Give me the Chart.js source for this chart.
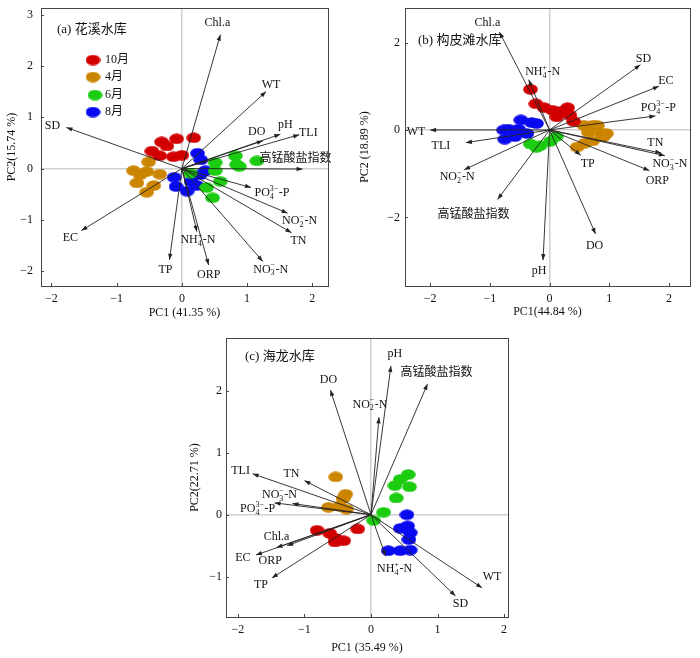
<!DOCTYPE html>
<html>
<head>
<meta charset="utf-8">
<script src="https://cdn.jsdelivr.net/npm/chart.js@4.4.1/dist/chart.umd.min.js"></script>
<style>
body { margin: 0; background: #fff; width: 700px; height: 658px; position: relative; overflow: hidden; }
canvas { position: absolute; }
</style>
</head>
<body>
<canvas id="chartA" width="340" height="322" style="left:0;top:0"></canvas>
<canvas id="chartB" width="360" height="322" style="left:340px;top:0"></canvas>
<canvas id="chartC" width="340" height="336" style="left:180px;top:322px"></canvas>
<script>
// sampling months
var months = ['10月', '4月', '6月', '8月'];

// (a) 花溪水库 - loadings
var aVars = ['Chl.a', 'WT', 'pH', 'DO', 'TLI', '高锰酸盐指数', 'PO_4^{3−}-P', 'NO_2^{−}-N', 'TN', 'NO_3^{−}-N', 'ORP', 'NH_4^{+}-N', 'TP', 'EC', 'SD'];
var aPC1 = [0.59, 1.29, 1.51, 1.24, 1.80, 1.85, 1.06, 1.62, 1.68, 1.24, 0.41, 0.23, -0.19, -1.54, -1.77];
var aPC2 = [2.61, 1.50, 0.67, 0.54, 0.66, -0.01, -0.37, -0.87, -1.25, -1.81, -1.88, -1.23, -1.78, -1.21, 0.80];
// (a) scores
var aOctX = [0.18, -0.08, -0.31, -0.23, -0.46, -0.34, -0.13, 0.00];
var aOctY = [0.60, 0.58, 0.52, 0.44, 0.34, 0.25, 0.23, 0.26];
var aAprX = [-0.51, -0.74, -0.54, -0.34, -0.64, -0.69, -0.43, -0.54];
var aAprY = [0.13, -0.04, -0.06, -0.11, -0.12, -0.28, -0.33, -0.46];
var aJunX = [0.82, 0.84, 0.88, 1.15, 0.51, 0.51, 0.59, 0.38, 0.47, 0.13];
var aJunY = [0.25, 0.08, 0.04, 0.15, 0.12, -0.04, -0.25, -0.37, -0.57, -0.09];
var aAugX = [0.24, 0.29, 0.36, 0.28, -0.12, -0.09, 0.14, 0.23, 0.08];
var aAugY = [0.30, 0.17, -0.04, -0.12, -0.17, -0.35, -0.25, -0.33, -0.44];

// (b) 构皮滩水库 - loadings
var bVars = ['Chl.a', 'NH_4^{+}-N', 'SD', 'EC', 'PO_4^{3−}-P', 'TN', 'NO_3^{−}-N', 'ORP', 'TP', 'DO', 'pH', '高锰酸盐指数', 'NO_2^{−}-N', 'TLI', 'WT'];
var bPC1 = [-0.84, -0.35, 1.52, 1.83, 1.77, 1.87, 1.93, 1.67, 0.52, 0.77, -0.11, -0.87, -1.43, -1.40, -2.00];
var bPC2 = [2.24, 1.15, 1.49, 1.00, 0.32, -0.53, -0.59, -0.93, -0.58, -2.38, -2.98, -1.59, -0.91, -0.29, 0.00];
// (b) scores
var bOctX = [-0.32, -0.23, -0.09, 0.05, 0.18, 0.30, 0.34, 0.12, 0.40];
var bOctY = [0.93, 0.60, 0.51, 0.45, 0.42, 0.51, 0.34, 0.30, 0.20];
var bAprX = [0.57, 0.80, 0.87, 0.90, 0.72, 0.59, 0.46, 0.65, 0.95, 0.73];
var bAprY = [0.11, 0.10, -0.08, -0.15, -0.25, -0.30, -0.39, -0.05, -0.08, 0.11];
var bJunX = [-0.32, -0.16, 0.01, 0.11, -0.22];
var bJunY = [-0.32, -0.36, -0.26, -0.15, -0.40];
var bAugX = [-0.48, -0.30, -0.69, -0.52, -0.38, -0.75, -0.58, -0.22, -0.77];
var bAugY = [0.23, 0.17, 0.02, 0.02, -0.08, -0.21, -0.15, 0.15, 0.00];

// (c) 海龙水库 - loadings
var cVars = ['pH', '高锰酸盐指数', 'DO', 'NO_2^{−}-N', 'TLI', 'TN', 'NO_3^{−}-N', 'PO_4^{3−}-P', 'Chl.a', 'ORP', 'EC', 'TP', 'NH_4^{+}-N', 'WT', 'SD'];
var cPC1 = [0.30, 0.85, -0.61, 0.12, -1.78, -1.00, -1.18, -1.45, -1.42, -1.26, -1.73, -1.49, 0.22, 1.67, 1.27];
var cPC2 = [2.40, 2.11, 2.01, 1.57, 0.66, 0.55, 0.18, 0.19, -0.53, -0.50, -0.65, -1.02, -0.67, -1.18, -1.31];
// (c) scores
var cOctX = [-0.81, -0.62, -0.53, -0.41, -0.54, -0.20];
var cOctY = [-0.25, -0.30, -0.38, -0.42, -0.44, -0.23];
var cAprX = [-0.53, -0.38, -0.42, -0.64, -0.47, -0.37];
var cAprY = [0.61, 0.33, 0.26, 0.12, 0.14, 0.09];
var cJunX = [0.56, 0.44, 0.36, 0.58, 0.38, 0.19, 0.04];
var cJunY = [0.65, 0.57, 0.47, 0.45, 0.27, 0.04, -0.09];
var cAugX = [0.54, 0.55, 0.59, 0.57, 0.44, 0.26, 0.44, 0.59];
var cAugY = [0.00, -0.18, -0.29, -0.40, -0.22, -0.58, -0.58, -0.57];

// styling
var monthColors = ['#d20000', '#cc8500', '#1ccc10', '#0a0af0'];
var serif = '"Liberation Serif", "Noto Sans CJK SC"';

// label offsets from arrow tips (px)
var aLabDx = [-3, 5, 5, -6, 9, -7, 21, 12, 7, 8, 0, 1, -4, -11, -14];
var aLabDy = [-12, -7, -9, -9, -2, -10, 5, 8, 8, 8, 10, 8, 10, 7, -2];
var bLabDx = [-12, 14, 3, 7, 3, -6, 5, 8, 7, -1, -4, -24, -7, -25, -14];
var bLabDy = [-9, -8, -6, -5, -8, -10, 8, 10, 9, 12, 11, 15, 7, 3, 2];
var cLabDx = [4, 9, -2, -9, -12, -13, -13, -17, 0, -17, -13, -11, 9, 10, 5];
var cLabDy = [-12, -11, -10, -13, -3, -7, -9, 6, -11, 15, 3, 7, 13, -11, 8];

function ellipseImg(color) {
    var c = document.createElement('canvas');
    c.width = 15; c.height = 11;
    var g = c.getContext('2d');
    g.fillStyle = color;
    g.beginPath();
    g.ellipse(7.5, 5.5, 7.3, 5.3, 0, 0, Math.PI * 2);
    g.fill();
    return c;
}
var markers = monthColors.map(ellipseImg);

// "NO_3^{−}-N" -> parts with sub/sup
function richParts(s) {
    var parts = [], i = 0;
    while (i < s.length) {
        var c = s[i];
        if (c === '_' || c === '^') {
            var t;
            if (s[i + 1] === '{') { var j = s.indexOf('}', i); t = s.slice(i + 2, j); i = j + 1; }
            else { t = s[i + 1]; i += 2; }
            parts.push({ t: t, k: c === '_' ? 'sub' : 'sup' });
        } else {
            var j2 = i;
            while (j2 < s.length && s[j2] !== '_' && s[j2] !== '^') j2++;
            parts.push({ t: s.slice(i, j2), k: 'n' });
            i = j2;
        }
    }
    return parts;
}

function drawRich(ctx, s, cx, cy) {
    var big = '12px ' + serif, small = '8px "Liberation Serif"';
    var parts = richParts(s), segs = [], w = 0;
    for (var i = 0; i < parts.length; i++) {
        var p = parts[i];
        if (p.k === 'n') {
            ctx.font = big;
            segs.push({ p: p, x: w });
            w += ctx.measureText(p.t).width;
        } else {
            ctx.font = small;
            var pw = ctx.measureText(p.t).width;
            segs.push({ p: p, x: w });
            var q = parts[i + 1];
            if (q && q.k !== 'n' && q.k !== p.k) {
                segs.push({ p: q, x: w });
                pw = Math.max(pw, ctx.measureText(q.t).width);
                i++;
            }
            w += pw + 0.5;
        }
    }
    var x0 = cx - w / 2;
    ctx.textAlign = 'left';
    ctx.textBaseline = 'middle';
    ctx.fillStyle = '#111';
    segs.forEach(function (sg) {
        ctx.font = sg.p.k === 'n' ? big : small;
        var dy = sg.p.k === 'sub' ? 4 : (sg.p.k === 'sup' ? -4 : 0);
        ctx.fillText(sg.p.t, x0 + sg.x, cy + dy);
    });
}

function fmt(v) { return v < 0 ? '\u2212' + (-v) : String(v); }

function makePlugin(d) {
    return {
        id: 'biplot',
        afterDatasetsDraw: function (chart) {
            var xs = chart.scales.x, ys = chart.scales.y, ctx = chart.ctx;
            var x0 = xs.getPixelForValue(0), y0 = ys.getPixelForValue(0);
            ctx.save();
            d.pc1.forEach(function (v, i) {
                var px = xs.getPixelForValue(v), py = ys.getPixelForValue(d.pc2[i]);
                var a = Math.atan2(py - y0, px - x0), L = 6, W = 2.2;
                ctx.fillStyle = '#222';
                ctx.beginPath();
                ctx.moveTo(px, py);
                ctx.lineTo(px - L * Math.cos(a) + W * Math.sin(a), py - L * Math.sin(a) - W * Math.cos(a));
                ctx.lineTo(px - L * Math.cos(a) - W * Math.sin(a), py - L * Math.sin(a) + W * Math.cos(a));
                ctx.closePath();
                ctx.fill();
                drawRich(ctx, d.vars[i], px + d.dx[i], py + d.dy[i]);
            });
            ctx.restore();
        },
        afterDraw: function (chart) {
            var ca = chart.chartArea, ctx = chart.ctx;
            var xs = chart.scales.x, ys = chart.scales.y;
            ctx.save();
            // frame
            ctx.strokeStyle = '#444';
            ctx.lineWidth = 1;
            ctx.strokeRect(Math.round(ca.left) + 0.5, Math.round(ca.top) + 0.5, Math.round(ca.right - ca.left), Math.round(ca.bottom - ca.top));
            // inward tick marks
            ctx.beginPath();
            xs.ticks.forEach(function (t) {
                var x = Math.round(xs.getPixelForValue(t.value)) + 0.5;
                ctx.moveTo(x, ca.bottom); ctx.lineTo(x, ca.bottom - 3);
            });
            ys.ticks.forEach(function (t) {
                var y = Math.round(ys.getPixelForValue(t.value)) + 0.5;
                ctx.moveTo(ca.left, y); ctx.lineTo(ca.left + 3, y);
            });
            ctx.stroke();
            // panel title
            ctx.fillStyle = '#111';
            ctx.font = '13px ' + serif;
            ctx.textAlign = 'left';
            ctx.textBaseline = 'middle';
            ctx.fillText(d.title, ca.left + d.titlePos[0], ca.top + d.titlePos[1]);
            // legend
            if (d.legend) {
                months.forEach(function (m, i) {
                    var lx = ca.left + d.legend.x[i], ly = ca.top + d.legend.y[i];
                    ctx.drawImage(markers[i], lx - 7.5, ly - 5.5);
                    ctx.fillStyle = '#111';
                    ctx.font = '12px ' + serif;
                    ctx.fillText(m, ca.left + d.legend.tx, ly);
                });
            }
            ctx.restore();
        }
    };
}

function biplot(id, d) {
    var datasets = [];
    d.pc1.forEach(function (v, i) {
        datasets.push({
            data: [{ x: 0, y: 0 }, { x: v, y: d.pc2[i] }],
            showLine: true, borderColor: '#222', borderWidth: 0.9,
            pointRadius: 0, order: 0
        });
    });
    d.scores.forEach(function (s, m) {
        datasets.push({
            label: months[m],
            data: s[0].map(function (x, j) { return { x: x, y: s[1][j] }; }),
            pointStyle: markers[m], pointRadius: 7, order: 1 + m
        });
    });
    var tickFont = { family: serif, size: 12 };
    return new Chart(document.getElementById(id), {
        type: 'scatter',
        data: { datasets: datasets },
        options: {
            responsive: false,
            animation: false,
            events: [],
            layout: { padding: d.pad },
            plugins: { legend: { display: false }, tooltip: { enabled: false } },
            scales: {
                x: {
                    type: 'linear', min: d.xr[0], max: d.xr[1],
                    afterFit: function (s) { s.height = d.xh; s.paddingLeft = 0; s.paddingRight = 0; },
                    ticks: { stepSize: 1, includeBounds: false, padding: 6, color: '#111', font: tickFont, callback: fmt, maxRotation: 0 },
                    grid: {
                        drawTicks: false, lineWidth: 1.5,
                        color: function (c) { return c.tick && c.tick.value === 0 ? '#cfcfcf' : 'rgba(0,0,0,0)'; }
                    },
                    border: { display: false },
                    title: { display: true, text: d.xt, color: '#111', font: { family: serif, size: 12 }, padding: { top: 0, bottom: d.xtb } }
                },
                y: {
                    type: 'linear', min: d.yr[0], max: d.yr[1],
                    afterFit: function (s) { s.width = d.yw; s.paddingTop = 0; s.paddingBottom = 0; },
                    ticks: { stepSize: d.ystep, includeBounds: false, padding: d.ytp, color: '#111', font: tickFont, callback: fmt },
                    grid: {
                        drawTicks: false, lineWidth: 1.5,
                        color: function (c) { return c.tick && c.tick.value === 0 ? '#cfcfcf' : 'rgba(0,0,0,0)'; }
                    },
                    border: { display: false },
                    title: { display: true, text: d.yt, color: '#111', font: { family: serif, size: 12 }, padding: { top: d.ytt, bottom: 0 } }
                }
            }
        },
        plugins: [makePlugin(d)]
    });
}

biplot('chartA', {
    vars: aVars, pc1: aPC1, pc2: aPC2, dx: aLabDx, dy: aLabDy,
    scores: [[aOctX, aOctY], [aAprX, aAprY], [aJunX, aJunY], [aAugX, aAugY]],
    title: '(a) 花溪水库', titlePos: [16, 22],
    legend: { x: [52, 52, 54, 52], y: [52, 69, 87, 104], tx: 64 },
    pad: { left: 0, top: 5, right: 12, bottom: 0 }, yw: 41, xh: 36,
    xr: [-2.16, 2.24], yr: [-2.29, 3.13], ystep: 1,
    xt: 'PC1 (41.35 %)', yt: 'PC2(15.74 %)', xtb: 2, ytt: 5, ytp: 8
});

biplot('chartB', {
    vars: bVars, pc1: bPC1, pc2: bPC2, dx: bLabDx, dy: bLabDy,
    scores: [[bOctX, bOctY], [bAprX, bAprY], [bJunX, bJunY], [bAugX, bAugY]],
    title: '(b) 构皮滩水库', titlePos: [13, 33],
    pad: { left: 0, top: 5, right: 10, bottom: 0 }, yw: 65, xh: 36,
    xr: [-2.42, 2.35], yr: [-3.57, 2.79], ystep: 2,
    xt: 'PC1(44.84 %)', yt: 'PC2 (18.89 %)', xtb: 3, ytt: 18, ytp: 5
});

biplot('chartC', {
    vars: cVars, pc1: cPC1, pc2: cPC2, dx: cLabDx, dy: cLabDy,
    scores: [[cOctX, cOctY], [cAprX, cAprY], [cJunX, cJunY], [cAugX, cAugY]],
    title: '(c) 海龙水库', titlePos: [19, 19],
    pad: { left: 0, top: 16, right: 12, bottom: 0 }, yw: 46, xh: 41,
    xr: [-2.18, 2.06], yr: [-1.65, 2.85], ystep: 1,
    xt: 'PC1 (35.49 %)', yt: 'PC2(22.71 %)', xtb: 3, ytt: 8, ytp: 4
});
</script>
</body>
</html>
